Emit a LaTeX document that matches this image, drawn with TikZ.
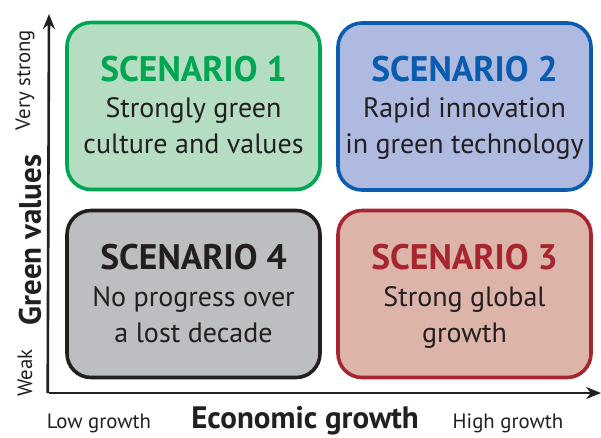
\documentclass[tikz,border=0pt]{standalone}
\usepackage{fontspec}
\setmainfont{PT Sans}
\usetikzlibrary{arrows.meta}
\definecolor{gborder}{HTML}{00A651}
\definecolor{gfill}{HTML}{B4DDC2}
\definecolor{bborder}{HTML}{0B5BAE}
\definecolor{bfill}{HTML}{AFBAE1}
\definecolor{kborder}{HTML}{231F20}
\definecolor{kfill}{HTML}{BDBEC1}
\definecolor{rborder}{HTML}{A7252F}
\definecolor{rfill}{HTML}{DDB4A9}
\definecolor{txt}{HTML}{231F20}
\tikzset{
  quad/.style={draw=#1border, fill=#1fill, line width=3.6pt, rounded corners=24pt,
    minimum width=253pt, minimum height=167pt, inner sep=0pt},
  ttl/.style={font=\bfseries\fontsize{35.5}{40}\selectfont, text=#1border, anchor=base, inner sep=0pt},
  body/.style={font=\fontsize{28}{32}\selectfont, text=txt, anchor=base, inner sep=0pt},
  axis/.style={line width=2.6pt, draw=txt, -{Stealth[length=15pt,width=12pt]}},
  axlab/.style={font=\fontsize{20.8}{24}\selectfont, text=txt, inner sep=0pt},
  axttl/.style={font=\bfseries\fontsize{31}{34}\selectfont, text=txt, inner sep=0pt}
}
\begin{document}
\begin{tikzpicture}[x=1pt,y=-1pt]
\useasboundingbox (0,0) rectangle (601,437);
% boxes
\node[quad=g] (s1) at (193.5,106) {};
\node[quad=b] (s2) at (464.5,106.5) {};
\node[quad=k] (s4) at (193.5,294) {};
\node[quad=r] (s3) at (464.5,294) {};
% texts
\node[ttl=g] (t1) at (193.5,81) {SCENARIO 1};
\node[body] (b1a) at (193.5,117) {Strongly green};
\node[body] (b1b) at (193.5,153) {culture and values};
\node[ttl=b] (t2) at (464.5,81) {SCENARIO 2};
\node[body] (b2a) at (464.5,117) {Rapid innovation};
\node[body] (b2b) at (464.5,153) {in green technology};
\node[ttl=k] (t4) at (193.5,269) {SCENARIO 4};
\node[body] (b4a) at (193.5,306) {No progress over};
\node[body] (b4b) at (193.5,342) {a lost decade};
\node[ttl=r] (t3) at (464.5,269) {SCENARIO 3};
\node[body] (b3a) at (464.5,306) {Strong global};
\node[body] (b3b) at (464.5,342) {growth};
% axes
\coordinate (o) at (49,393);
\coordinate (ytop) at (49,14);
\coordinate (xend) at (601,393);
\draw[axis] ([xshift=-1.3pt]o) -- (ytop);
\draw[axis] (o) -- (xend);
% axis labels
\node[axlab, rotate=90] (vs) at (25,80) {Very strong};
\node[axlab, rotate=90] (wk) at (25,373) {Weak};
\node[axttl, rotate=90] (gv) at (30,240) {Green values};
\node[axlab] (lg) at (99,423) {Low growth};
\node[axttl] (eg) at (305,421) {Economic growth};
\node[axlab] (hg) at (508,423) {High growth};
\end{tikzpicture}
\end{document}
